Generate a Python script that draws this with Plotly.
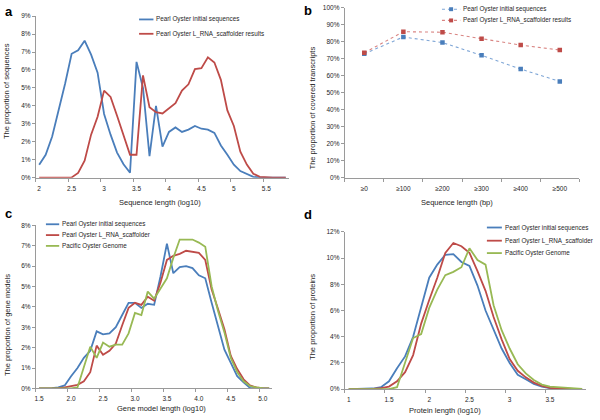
import plotly.graph_objects as go

W, H = 600, 420

# ---------------- data ----------------
a_x = [2.0, 2.1, 2.2, 2.3, 2.4, 2.5, 2.6, 2.7, 2.8, 2.9, 3.0, 3.1, 3.2, 3.3, 3.4, 3.5, 3.6, 3.7, 3.8, 3.9,
       4.0, 4.1, 4.2, 4.3, 4.4, 4.5, 4.6, 4.7, 4.8, 4.9, 5.0, 5.1, 5.2, 5.3, 5.4, 5.5, 5.6, 5.7, 5.8]
a_initial = [0.73, 1.28, 2.3, 3.7, 5.25, 6.9, 7.1, 7.63, 6.85, 5.85, 3.55, 2.4, 1.4, 0.75, 0.28, 6.45, 5.0, 1.2, 4.0, 1.73,
             2.55, 2.8, 2.55, 2.68, 2.88, 2.73, 2.68, 2.5, 1.8, 1.28, 0.73, 0.37, 0.2, 0.05, 0.02, 0.0, 0.0, 0.0, 0.0]
a_scaffold = [0, 0, 0, 0, 0, 0.02, 0.27, 0.95, 2.4, 3.4, 4.85, 4.5, 3.45, 2.4, 1.28, 1.28, 5.7, 3.93, 3.65, 3.58,
              3.87, 4.15, 4.85, 5.2, 6.05, 6.1, 6.7, 6.42, 5.45, 3.75, 2.88, 1.45, 0.73, 0.22, 0.05, 0.01, 0, 0, 0]
a_ticks = [2, 2.5, 3, 3.5, 4, 4.5, 5, 5.5]

b_cats = ["≥0", "≥100", "≥200", "≥300", "≥400", "≥500"]
b_initial = [73.0, 82.9, 79.6, 72.1, 64.0, 56.7]
b_scaffold = [73.6, 86.0, 85.7, 81.9, 78.1, 75.2]

c_x = [1.5, 1.6, 1.7, 1.8, 1.9, 2.0, 2.1, 2.2, 2.3, 2.4, 2.5, 2.6, 2.7, 2.8, 2.9, 3.0, 3.1, 3.2, 3.3,
       3.4, 3.5, 3.6, 3.7, 3.8, 3.9, 4.0, 4.1, 4.2, 4.3, 4.4, 4.5, 4.6, 4.7, 4.8, 4.9, 5.0, 5.1]
c_initial = [0, 0, 0.02, 0.05, 0.15, 0.6, 1.0, 1.5, 1.85, 2.8, 2.65, 2.7, 3.0, 3.6, 4.2, 4.2, 3.95, 4.15, 4.1,
             5.5, 7.1, 5.65, 5.95, 6.0, 5.9, 5.55, 5.4, 4.2, 3.0, 1.9, 1.25, 0.6, 0.3, 0.03, 0, 0, 0]
c_scaffold = [0, 0, 0, 0.02, 0.05, 0.1, 0.18, 0.35, 0.8, 2.1, 1.65, 1.85, 2.2, 3.1, 3.95, 4.2, 4.1, 4.5, 4.3,
              5.2, 6.3, 6.5, 6.6, 6.75, 6.7, 6.65, 6.3, 4.85, 3.9, 2.9, 1.6, 0.95, 0.45, 0.15, 0.05, 0, 0]
c_pacific = [0, 0, 0, 0, 0, 0, 0.05, 1.0, 2.05, 1.5, 2.25, 2.05, 2.15, 2.15, 2.7, 3.7, 3.6, 4.75, 4.4,
             4.9, 5.4, 6.4, 7.3, 7.3, 7.3, 7.15, 6.95, 5.0, 3.8, 2.75, 1.5, 0.8, 0.35, 0.12, 0.05, 0.02, 0.01]
c_ticks = [1.5, 2.0, 2.5, 3.0, 3.5, 4.0, 4.5, 5.0]

d_x = [1.0, 1.1, 1.2, 1.3, 1.4, 1.5, 1.6, 1.7, 1.8, 1.9, 2.0, 2.1, 2.2, 2.3, 2.4, 2.5, 2.6, 2.7, 2.8, 2.9,
       3.0, 3.1, 3.2, 3.3, 3.4, 3.5, 3.6, 3.7, 3.8, 3.9]
d_initial = [0, 0, 0.02, 0.05, 0.15, 0.6, 1.6, 2.5, 4.0, 6.2, 8.5, 9.5, 10.25, 10.3, 9.7, 9.4, 7.9, 6.0, 4.6, 3.1,
             2.0, 1.1, 0.75, 0.4, 0.2, 0.08, 0.03, 0.01, 0, 0]
d_scaffold = [0, 0, 0.01, 0.03, 0.08, 0.2, 0.6, 1.3, 2.6, 5.0, 6.8, 8.5, 10.4, 11.15, 10.9, 10.4, 9.0, 7.5, 5.5, 3.8,
              2.3, 1.4, 0.9, 0.5, 0.25, 0.1, 0.05, 0.02, 0, 0]
d_pacific = [0, 0, 0, 0, 0, 0, 0.15, 2.0, 3.9, 4.2, 6.2, 7.6, 8.7, 8.95, 9.3, 10.75, 9.85, 9.5, 6.4, 4.5,
             3.1, 1.9, 1.2, 0.7, 0.35, 0.2, 0.15, 0.1, 0.05, 0.02]
d_ticks = [1, 1.5, 2, 2.5, 3, 3.5]

name_init = "Pearl Oyster initial sequences"
name_scaf_res = "Pearl Oyster L_RNA_scaffolder results"
name_scaf = "Pearl Oyster L_RNA_scaffolder"
name_pac = "Pacific Oyster Genome"

BLUE = "#4A7EBB"
RED = "#BE4B48"
GREEN = "#98B954"
BLUE_L = "#7FA6D6"
RED_L = "#D98583"
AX = "#9A9A9A"
TXT = "#262626"
FONT = "Liberation Sans, Arial, sans-serif"


def px(x):
    return x / W


def py(y):
    return 1 - y / H


fig = go.Figure()

# ---------------- traces ----------------
lw = 1.8
fig.add_trace(go.Scatter(x=a_x, y=a_initial, mode="lines", line=dict(color=BLUE, width=lw), xaxis="x", yaxis="y"))
fig.add_trace(go.Scatter(x=a_x, y=a_scaffold, mode="lines", line=dict(color=RED, width=lw), xaxis="x", yaxis="y"))

b_pos = list(range(len(b_cats)))
fig.add_trace(go.Scatter(x=b_pos, y=b_initial, mode="lines+markers",
                         line=dict(color=BLUE_L, width=1.1, dash="dot"),
                         marker=dict(symbol="square", size=4.5, color=BLUE), xaxis="x2", yaxis="y2"))
fig.add_trace(go.Scatter(x=b_pos, y=b_scaffold, mode="lines+markers",
                         line=dict(color=RED_L, width=1.1, dash="dot"),
                         marker=dict(symbol="square", size=4.5, color=RED), xaxis="x2", yaxis="y2"))

for ys, col in [(c_initial, BLUE), (c_scaffold, RED), (c_pacific, GREEN)]:
    fig.add_trace(go.Scatter(x=c_x, y=ys, mode="lines", line=dict(color=col, width=lw), xaxis="x3", yaxis="y3"))
for ys, col in [(d_initial, BLUE), (d_scaffold, RED), (d_pacific, GREEN)]:
    fig.add_trace(go.Scatter(x=d_x, y=ys, mode="lines", line=dict(color=col, width=lw), xaxis="x4", yaxis="y4"))


# ---------------- axes ----------------
def xax(dom, rng, tickvals, minor_vals, anchor, ticktext=None, fmt=None):
    d = dict(domain=[px(dom[0]), px(dom[1])], range=rng, anchor=anchor,
             showline=True, linecolor=AX, linewidth=1, showgrid=False, zeroline=False,
             tickmode="array", tickvals=tickvals, ticks="", tickfont=dict(size=6.5, color=TXT, family=FONT),
             ticklabelstandoff=4,
             minor=dict(tickmode="array", tickvals=minor_vals, ticks="outside", ticklen=3,
                        tickcolor=AX, tickwidth=1, showgrid=False))
    if ticktext is not None:
        d["ticktext"] = ticktext
    if fmt is not None:
        d["tickformat"] = fmt
    return d


def yax(dom, rng, dtick, anchor):
    return dict(domain=[py(dom[1]), py(dom[0])], range=rng, anchor=anchor,
                showline=True, linecolor=AX, linewidth=1, showgrid=False, zeroline=False,
                tickmode="linear", tick0=0, dtick=dtick, ticksuffix="%",
                ticks="outside", ticklen=3, tickcolor=AX,
                tickfont=dict(size=6.5, color=TXT, family=FONT))


layout = dict(
    width=W, height=H, autosize=False, margin=dict(l=0, r=0, t=0, b=0),
    paper_bgcolor="white", plot_bgcolor="white", showlegend=False,
    font=dict(family=FONT, color=TXT),
    xaxis=xax((35, 288.5), [1.95, 5.85], a_ticks, [v - 0.05 for v in a_ticks], "y"),
    yaxis=yax((12.3, 176.7), [0, 9], 1, "x"),
    xaxis2=xax((344.3, 579.3), [-0.5, 5.5], b_pos, [p - 0.5 for p in b_pos] + [5.5], "y2", ticktext=b_cats),
    yaxis2=yax((4, 176.7), [0, 100], 10, "x2"),
    xaxis3=xax((35, 271.8), [1.45, 5.15], c_ticks, [v - 0.05 for v in c_ticks], "y3", fmt=".1f"),
    yaxis3=yax((225, 391), [0, 8], 1, "x3"),
    xaxis4=xax((344.3, 586.1), [0.95, 3.95], d_ticks, [v - 0.05 for v in d_ticks], "y4"),
    yaxis4=yax((231.7, 391.7), [0, 12], 2, "x4"),
)
fig.update_layout(**layout)

ann = []
shapes = []


def text(x, y, s, size=7.5, anchor="center", angle=0, bold=False):
    ann.append(dict(x=px(x), y=py(y), xref="paper", yref="paper", text=("<b>%s</b>" % s) if bold else s,
                    showarrow=False, xanchor=anchor, yanchor="middle", textangle=angle,
                    font=dict(size=size, color=TXT if not bold else "black", family=FONT)))


# panel letters
text(2, 7.5, "a", size=13, anchor="left", bold=True)
text(302, 7, "b", size=13, anchor="left", bold=True)
text(2, 213.5, "c", size=13, anchor="left", bold=True)
text(302, 214, "d", size=13, anchor="left", bold=True)

# axis titles
text(5.5, 88, "The proportion of sequences", angle=-90)
text(159.5, 202, "Sequence length (log10)")
text(311.7, 106, "The proportion of covered transcripts", angle=-90)
text(456.7, 202, "Sequence length (bp)")
text(6.5, 326, "The proportion of gene models", angle=-90)
text(161, 411.5, "Gene model length (log10)")
text(312.7, 318, "The proportion of proteins", angle=-90)
text(444.5, 413, "Protein length (log10)")


# legends
def legend_line(x0, x1, y, color, label, dotted=False, marker_color=None):
    shapes.append(dict(type="line", xref="paper", yref="paper", x0=px(x0), x1=px(x1), y0=py(y), y1=py(y),
                       line=dict(color=color, width=1.1 if dotted else 1.8, dash="dot" if dotted else "solid")))
    if marker_color:
        xm = (x0 + x1) / 2
        shapes.append(dict(type="rect", xref="paper", yref="paper", x0=px(xm - 2), x1=px(xm + 2),
                           y0=py(y + 2), y1=py(y - 2), fillcolor=marker_color, line=dict(width=0)))
    text(x1 + 1, y, label, size=6.3, anchor="left")


legend_line(138.3, 152.7, 15.7, BLUE, name_init)
legend_line(138.3, 152.7, 30.3, RED, name_scaf_res)
legend_line(441.7, 460, 5.3, BLUE_L, name_init, dotted=True, marker_color=BLUE)
legend_line(441.7, 460, 16.7, RED_L, name_scaf_res, dotted=True, marker_color=RED)
legend_line(45, 58.3, 224, BLUE, name_init)
legend_line(45, 58.3, 235, RED, name_scaf)
legend_line(45, 58.3, 246, GREEN, name_pac)
legend_line(486.7, 501.7, 227.3, BLUE, name_init)
legend_line(486.7, 501.7, 240.7, RED, name_scaf)
legend_line(486.7, 501.7, 253.3, GREEN, name_pac)

fig.update_layout(annotations=ann, shapes=shapes)
fig.write_html("out.html", config={"displayModeBar": False},
               post_script="document.body.style.margin='0';document.body.style.padding='0';")
